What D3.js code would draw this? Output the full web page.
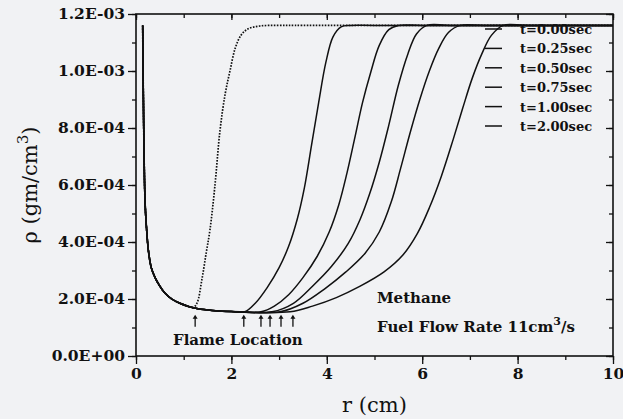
<!DOCTYPE html>
<html>
<head>
<meta charset="utf-8">
<script src="https://cdn.jsdelivr.net/npm/d3@7/dist/d3.min.js"></script>
<style>
	body { margin: 0; background: #f1f2f4; }
	svg { display: block; }
	text { fill: #111; }
</style>
</head>
<body>
<div id="chart"></div>
<script>
// common inner part (all curves share it)
const innerR   = [0.14, 0.145, 0.155, 0.17, 0.19, 0.22, 0.26, 0.32, 0.40, 0.50, 0.60, 0.75, 0.92, 1.10, 1.30, 1.60, 2.00];
const innerRho = [1.16e-3, 1.06e-3, 9.0e-4, 7.0e-4, 5.4e-4, 4.5e-4, 3.7e-4, 3.1e-4, 2.75e-4, 2.45e-4, 2.22e-4, 2.0e-4, 1.85e-4, 1.74e-4, 1.66e-4, 1.60e-4, 1.56e-4];

// outer part of each curve
const r000   = [1.20, 1.28, 1.38, 1.47, 1.55, 1.65, 1.76, 1.87, 1.97, 2.08, 2.20, 2.35, 2.60, 3.00, 3.50, 10];
const rho000 = [1.70e-4, 1.86e-4, 2.67e-4, 3.6e-4, 4.42e-4, 5.9e-4, 7.9e-4, 9.2e-4, 1.0e-3, 1.08e-3, 1.125e-3, 1.148e-3, 1.158e-3, 1.16e-3, 1.16e-3, 1.16e-3];
const r025   = [2.28, 2.50, 2.75, 3.00, 3.20, 3.38, 3.53, 3.68, 3.83, 3.98, 4.13, 4.30, 4.50, 5.00, 10];
const rho025 = [1.55e-4, 1.85e-4, 2.4e-4, 3.1e-4, 3.85e-4, 4.8e-4, 5.9e-4, 7.4e-4, 8.9e-4, 1.03e-3, 1.12e-3, 1.155e-3, 1.16e-3, 1.16e-3, 1.16e-3];
const r050   = [2.62, 2.90, 3.20, 3.50, 3.80, 4.05, 4.25, 4.42, 4.58, 4.75, 4.92, 5.10, 5.30, 5.50, 6.00, 10];
const rho050 = [1.55e-4, 1.75e-4, 2.15e-4, 2.75e-4, 3.5e-4, 4.35e-4, 5.3e-4, 6.4e-4, 7.6e-4, 8.9e-4, 9.95e-4, 1.09e-3, 1.145e-3, 1.16e-3, 1.16e-3, 1.16e-3];
const r075   = [2.85, 3.30, 3.70, 4.10, 4.45, 4.70, 4.90, 5.10, 5.30, 5.50, 5.70, 5.88, 6.10, 6.60, 10];
const rho075 = [1.55e-4, 1.85e-4, 2.45e-4, 3.15e-4, 3.95e-4, 4.8e-4, 5.7e-4, 6.8e-4, 8.1e-4, 9.5e-4, 1.06e-3, 1.13e-3, 1.16e-3, 1.16e-3, 1.16e-3];
const r100   = [3.02, 3.50, 3.95, 4.40, 4.80, 5.10, 5.35, 5.55, 5.75, 5.95, 6.15, 6.35, 6.55, 6.80, 7.30, 10];
const rho100 = [1.55e-4, 1.85e-4, 2.35e-4, 2.95e-4, 3.6e-4, 4.35e-4, 5.4e-4, 6.6e-4, 7.85e-4, 9.0e-4, 1.0e-3, 1.08e-3, 1.135e-3, 1.16e-3, 1.16e-3, 1.16e-3];
const r200   = [3.23, 3.70, 4.20, 4.70, 5.20, 5.60, 5.90, 6.15, 6.40, 6.65, 6.85, 7.05, 7.25, 7.45, 7.70, 8.20, 10];
const rho200 = [1.55e-4, 1.75e-4, 2.05e-4, 2.45e-4, 2.95e-4, 3.55e-4, 4.3e-4, 5.2e-4, 6.3e-4, 7.6e-4, 8.7e-4, 9.75e-4, 1.06e-3, 1.125e-3, 1.16e-3, 1.16e-3, 1.16e-3];

const legendLabels = ["t=0.00sec", "t=0.25sec", "t=0.50sec", "t=0.75sec", "t=1.00sec", "t=2.00sec"];
const flameR = [1.24, 2.26, 2.62, 2.81, 3.04, 3.29];

const xTicks = [0, 2, 4, 6, 8, 10];
const yTicks = [0, 2e-4, 4e-4, 6e-4, 8e-4, 1.0e-3, 1.2e-3];

const width = 623, height = 419;
const margin = {top: 14, right: 10, bottom: 63, left: 136};
const iw = width - margin.left - margin.right;
const ih = height - margin.top - margin.bottom;

const x = d3.scaleLinear().domain([0, 10]).range([0, iw]);
const y = d3.scaleLinear().domain([0, 1.2e-3]).range([ih, 0]);

const svg = d3.select('#chart').append('svg')
	.attr('width', width)
	.attr('height', height);

const g = svg.append('g')
	.attr('transform', `translate(${margin.left},${margin.top})`);

// 1.2E-03 style labels
function sci(d) {
	if (d === 0) return '0.0E+00';
	const e = Math.floor(Math.log10(d) + 1e-9);
	const m = d / Math.pow(10, e);
	const sign = e < 0 ? '-' : '+';
	return `${m.toFixed(1)}E${sign}${String(Math.abs(e)).padStart(2, '0')}`;
}

const tickFont = "'DejaVu Serif', serif";

// axes: bottom/left outward, top/right inward
const minorX = d3.range(0, 10.01, 1);
const minorY = d3.range(0, 1.21e-3, 1e-4);

g.append('g')
	.attr('transform', `translate(0,${ih})`)
	.call(d3.axisBottom(x).tickValues(minorX).tickSize(4).tickFormat(''))
	.call(a => a.select('.domain').remove());
g.append('g')
	.attr('transform', `translate(0,${ih})`)
	.call(d3.axisBottom(x).tickValues(xTicks).tickSize(8).tickPadding(4).tickFormat(d3.format('d')))
	.call(a => a.select('.domain').remove());

g.append('g')
	.call(d3.axisLeft(y).tickValues(minorY).tickSize(4).tickFormat(''))
	.call(a => a.select('.domain').remove());
g.append('g')
	.call(d3.axisLeft(y).tickValues(yTicks).tickSize(8).tickPadding(3).tickFormat(sci))
	.call(a => a.select('.domain').remove());

g.append('g')
	.call(d3.axisTop(x).tickValues(minorX).tickSize(-4).tickFormat(''))
	.call(a => a.select('.domain').remove());
g.append('g')
	.call(d3.axisTop(x).tickValues(xTicks).tickSize(-6).tickFormat(''))
	.call(a => a.select('.domain').remove());

g.append('g')
	.attr('transform', `translate(${iw},0)`)
	.call(d3.axisRight(y).tickValues(minorY).tickSize(-4).tickFormat(''))
	.call(a => a.select('.domain').remove());
g.append('g')
	.attr('transform', `translate(${iw},0)`)
	.call(d3.axisRight(y).tickValues(yTicks).tickSize(-7).tickFormat(''))
	.call(a => a.select('.domain').remove());

g.selectAll('.tick line').attr('stroke', '#111').attr('stroke-width', 1.3);
g.selectAll('.tick text')
	.attr('fill', '#111')
	.style('font-family', tickFont)
	.style('font-weight', 'bold')
	.style('font-size', '15.5px');

g.append('rect')
	.attr('width', iw)
	.attr('height', ih)
	.attr('fill', 'none')
	.attr('stroke', '#111')
	.attr('stroke-width', 1.6);

// build series: inner points up to where the curve leaves, then its own part
function build(rs, rhos) {
	const pts = [];
	innerR.forEach((r, i) => { if (r < rs[0]) pts.push([r, innerRho[i]]); });
	rs.forEach((r, i) => pts.push([r, rhos[i]]));
	return pts;
}

const series = [
	build(r000, rho000),
	build(r025, rho025),
	build(r050, rho050),
	build(r075, rho075),
	build(r100, rho100),
	build(r200, rho200)
];

const line = d3.line()
	.x(d => x(d[0]))
	.y(d => y(d[1]))
	.curve(d3.curveCatmullRom.alpha(0.5));

g.append('g')
	.selectAll('path')
	.data(series)
	.enter()
	.append('path')
		.attr('d', line)
		.attr('fill', 'none')
		.attr('stroke', '#111')
		.attr('stroke-width', (d, i) => i === 0 ? 1.7 : 1.5)
		.attr('stroke-dasharray', (d, i) => i === 0 ? '1.6,1.4' : null);

// legend
const leg = g.append('g').attr('transform', `translate(${349},${15})`);
legendLabels.forEach((t, i) => {
	const row = leg.append('g').attr('transform', `translate(0,${i * 19.4})`);
	row.append('line')
		.attr('x1', 0).attr('x2', 17)
		.attr('stroke', '#111')
		.attr('stroke-width', 1.5);
	row.append('text')
		.attr('x', 35)
		.attr('y', 5)
		.style('font-family', tickFont)
		.style('font-weight', 'bold')
		.style('font-size', '13px')
		.text(t);
});

// flame location arrows
const arrowTip = 1.45e-4, arrowBase = 1.03e-4;
const arrows = g.append('g');
flameR.forEach(r => {
	arrows.append('line')
		.attr('x1', x(r)).attr('x2', x(r))
		.attr('y1', y(arrowTip) + 2).attr('y2', y(arrowBase))
		.attr('stroke', '#111')
		.attr('stroke-width', 1.3);
	arrows.append('path')
		.attr('d', `M${x(r) - 2.5},${y(arrowTip) + 4} L${x(r)},${y(arrowTip)} L${x(r) + 2.5},${y(arrowTip) + 4} Z`)
		.attr('fill', '#111');
});

g.append('text')
	.attr('x', 37)
	.attr('y', 331)
	.style('font-family', tickFont)
	.style('font-weight', 'bold')
	.style('font-size', '15px')
	.text('Flame Location');

g.append('text')
	.attr('x', 241)
	.attr('y', 289)
	.style('font-family', tickFont)
	.style('font-weight', 'bold')
	.style('font-size', '15px')
	.text('Methane');

const fuel = g.append('text')
	.attr('x', 241)
	.attr('y', 318)
	.style('font-family', tickFont)
	.style('font-weight', 'bold')
	.style('font-size', '15px');
fuel.append('tspan').text('Fuel Flow Rate 11cm');
fuel.append('tspan').attr('dy', -7).style('font-size', '11px').text('3');
fuel.append('tspan').attr('dy', 7).text('/s');

// axis titles
svg.append('text')
	.attr('x', margin.left + iw / 2)
	.attr('y', 412)
	.attr('text-anchor', 'middle')
	.style('font-family', tickFont)
	.style('font-size', '21px')
	.text('r (cm)');

const yl = svg.append('text')
	.attr('transform', `translate(37,${margin.top + ih / 2}) rotate(-90)`)
	.attr('text-anchor', 'middle')
	.style('font-family', tickFont)
	.style('font-size', '21px');
yl.append('tspan').text('ρ (gm/cm');
yl.append('tspan').attr('dy', -9).style('font-size', '15px').text('3');
yl.append('tspan').attr('dy', 9).text(')');
</script>
</body>
</html>
